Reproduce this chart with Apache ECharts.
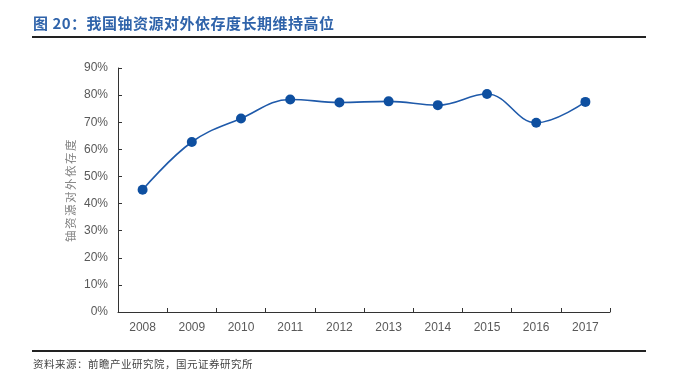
<!DOCTYPE html>
<html>
<head>
<meta charset="utf-8">
<script src="https://cdn.jsdelivr.net/npm/echarts@6/dist/echarts.min.js"></script>
<style>
html,body{margin:0;padding:0;background:#fff;}
#wrap{position:relative;width:675px;height:384px;overflow:hidden;}
#title{position:absolute;left:33px;top:12px;font-family:"Noto Sans CJK SC","Noto Sans",sans-serif;font-weight:bold;font-size:15px;color:#2F63AA;letter-spacing:0.5px;}
#line1{position:absolute;left:32px;top:36px;width:614px;height:2px;background:#222;}
#line2{position:absolute;left:32px;top:350px;width:614px;height:2px;background:#222;}
#src{position:absolute;left:33px;top:356px;font-family:"Noto Sans CJK SC",serif;font-size:10.5px;color:#444;letter-spacing:0.5px;}
#yname{position:absolute;left:70px;top:190px;transform:translate(-50%,-50%) rotate(-90deg);white-space:nowrap;font-family:"Noto Sans CJK SC",serif;font-size:11.5px;color:#808080;letter-spacing:1.5px;}
#chart{position:absolute;left:0;top:0;width:675px;height:384px;}
</style>
</head>
<body>
<div id="wrap">
<div id="chart"></div>
<div id="title">图 20：我国铀资源对外依存度长期维持高位</div>
<div id="line1"></div>
<div id="line2"></div>
<div id="yname"></div>
<div id="src">资料来源：前瞻产业研究院，国元证券研究所</div>
</div>
<script>
const categories = ['2008','2009','2010','2011','2012','2013','2014','2015','2016','2017'];
const dependence = [45.1, 62.7, 71.4, 78.4, 77.3, 77.7, 76.3, 80.4, 69.8, 77.5];
const yAxisName = '铀资源对外依存度';
document.getElementById('yname').textContent = yAxisName;

const chart = echarts.init(document.getElementById('chart'), null, {renderer:'canvas'});
chart.setOption({
  animation:false,
  grid:{left:118, right:65, top:68, bottom:72},
  xAxis:{
    type:'category', data:categories, boundaryGap:true,
    axisLine:{lineStyle:{color:'#333', width:1}},
    axisTick:{show:true, inside:true, length:4, lineStyle:{color:'#333'}},
    axisLabel:{color:'#595959', fontSize:12, margin:10, fontFamily:'Liberation Sans, Arial, sans-serif'}
  },
  yAxis:{
    type:'value', min:0, max:90, interval:10,
    axisLine:{show:true, lineStyle:{color:'#333', width:1}},
    axisTick:{show:true, inside:true, length:4, lineStyle:{color:'#333'}},
    splitLine:{show:false},
    axisLabel:{color:'#595959', fontSize:12, margin:10, formatter:'{value}%', fontFamily:'Liberation Sans, Arial, sans-serif'}
  },
  series:[{
    type:'line', data:dependence, smooth:0.4,
    symbol:'circle', symbolSize:10,
    itemStyle:{color:'#0E4FA0'},
    lineStyle:{color:'#1F5AAA', width:1.6}
  }]
});
</script>
</body>
</html>
